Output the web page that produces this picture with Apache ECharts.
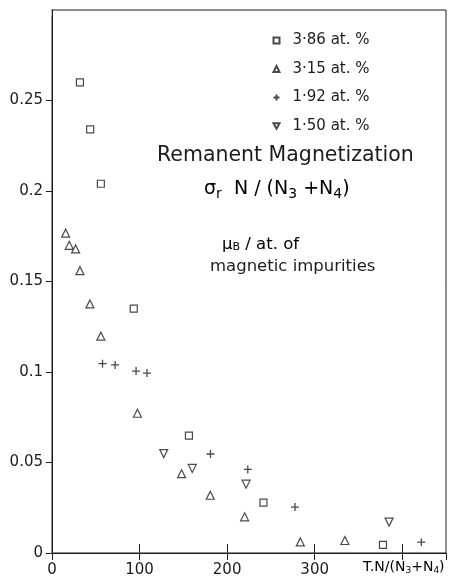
<!DOCTYPE html>
<html><head><meta charset="utf-8">
<script src="https://cdn.jsdelivr.net/npm/echarts@6/dist/echarts.min.js"></script>
<style>html,body{margin:0;padding:0;background:#fff}#c{width:453px;height:578px}</style>
</head><body><div id="c"></div>
<script>
const seriesNames = ['3·86 at. %', '3·15 at. %', '1·92 at. %', '1·50 at. %'];
const sq386 = [[31.9,0.260],[43.6,0.234],[55.8,0.204],[93.4,0.135],[156.4,0.0648],[241.5,0.0278],[378,0.0045]];
const tri315 = [[15.6,0.1767],[19.7,0.170],[27,0.168],[31.9,0.156],[43.3,0.1376],[55.8,0.1198],[97.6,0.0772],[148,0.0438],[180.7,0.0319],[220,0.020],[283.6,0.0061],[334.5,0.0069]];
const plus192 = [[57.7,0.1046],[72.1,0.1039],[96,0.1005],[108.5,0.0994],[181,0.0547],[223.6,0.0462],[277.5,0.0254],[421.8,0.0060]];
const inv150 = [[127.6,0.0549],[160.2,0.0467],[221.7,0.038],[385,0.0171]];
const xTickLabels = ['0','100','200','300','',''];
const yTickLabels = ['0','0.05','0.1','0.15','0.2','0.25',''];
const yTickValues = [0,0.05,0.1,0.15,0.2,0.25];

const ink = '#1c1c1c';
const font = 'DejaVu Sans';
const chart = echarts.init(document.getElementById('c'), null, {renderer:'canvas'});
const hollow = {color:'#fff', borderColor:ink, borderWidth:1.2};
function ser(name, data, symbol, size, style){
  return {name, type:'scatter', data, symbol, symbolSize:size, itemStyle:style, xAxisIndex:0, yAxisIndex:0};
}
chart.setOption({
  backgroundColor:'#fff',
  animation:false,
  textStyle:{fontFamily:font, color:ink},
  grid:{left:52, right:7, top:10, bottom:25, show:true, borderColor:ink, borderWidth:1},
  legend:{orient:'vertical', left:266, top:28, itemWidth:6, itemHeight:6, itemGap:13.5,
    textStyle:{fontFamily:font, fontSize:15, color:ink, padding:[0,0,0,8]}, data:seriesNames},
  xAxis:[
    {type:'value', min:0, max:450, interval:100, position:'bottom',
     axisLine:{show:true, lineStyle:{color:ink}}, splitLine:{show:false},
     axisTick:{show:true, inside:true, length:9, lineStyle:{color:ink}},
     axisLabel:{fontFamily:font, fontSize:15, color:ink, margin:10, showMaxLabel:false,
       formatter:(v)=>xTickLabels[Math.round(v/100)] }},
    {type:'value', min:0, max:450, interval:100, position:'top',
     axisLine:{show:true, lineStyle:{color:ink}}, splitLine:{show:false},
     axisTick:{show:true, inside:true, length:7, lineStyle:{color:ink}},
     axisLabel:{show:false}}
  ],
  yAxis:[
    {type:'value', min:0, max:0.3, interval:0.05, position:'left',
     axisLine:{show:true, lineStyle:{color:ink}}, splitLine:{show:false},
     axisTick:{show:true, inside:false, length:5, customValues:yTickValues, lineStyle:{color:ink}},
     axisLabel:{fontFamily:font, fontSize:15, color:ink, margin:9, customValues:yTickValues,
       formatter:(v)=>yTickLabels[Math.round(v/0.05)] }},
    {type:'value', min:0, max:0.3, interval:0.05, position:'right',
     axisLine:{show:true, lineStyle:{color:ink}}, splitLine:{show:false},
     axisTick:{show:true, inside:true, length:6, lineStyle:{color:ink}},
     axisLabel:{show:false}}
  ],
  series:[
    ser(seriesNames[0], sq386, 'rect', 7, hollow),
    ser(seriesNames[1], tri315, 'triangle', 8, hollow),
    ser(seriesNames[2], plus192, 'path://M5,0L5,10M0,5L10,5', 8, {color:'none', borderColor:ink, borderWidth:1.3}),
    ser(seriesNames[3], inv150, 'path://M0,0L10,0L5,9Z', 8, hollow)
  ],
  graphic:[
    {type:'rect', left:40, top:4, z:100, shape:{width:11.5, height:12}, style:{fill:'#fff'}},
    {type:'text', left:157, top:145, style:{text:'Remanent Magnetization', font:'20.5px "DejaVu Sans"', fill:ink}},
    {type:'text', left:204, top:180, style:{
      text:'{a|σ}{s|r}{a|  N / (N}{s|3}{a| +N}{s|4}{a|)}',
      rich:{a:{fontFamily:font, fontSize:19, color:ink}, s:{fontFamily:font, fontSize:14, color:ink, padding:[9,0,0,0]}}}},
    {type:'text', left:222, top:236, style:{
      text:'{a|μ}{s|B}{a| / at. of}',
      rich:{a:{fontFamily:font, fontSize:16.5, color:ink}, s:{fontFamily:font, fontSize:11, color:ink, padding:[6,0,0,0]}}}},
    {type:'text', left:210, top:258, style:{text:'magnetic impurities', font:'16.5px "DejaVu Sans"', fill:ink}},
    {type:'text', left:363, top:560, style:{
      text:'{a|T.N/(N}{s|3}{a|+N}{s|4}{a|)}',
      rich:{a:{fontFamily:font, fontSize:14, color:ink}, s:{fontFamily:font, fontSize:9, color:ink, padding:[7,0,0,0]}}}}
  ]
});
</script></body></html>
